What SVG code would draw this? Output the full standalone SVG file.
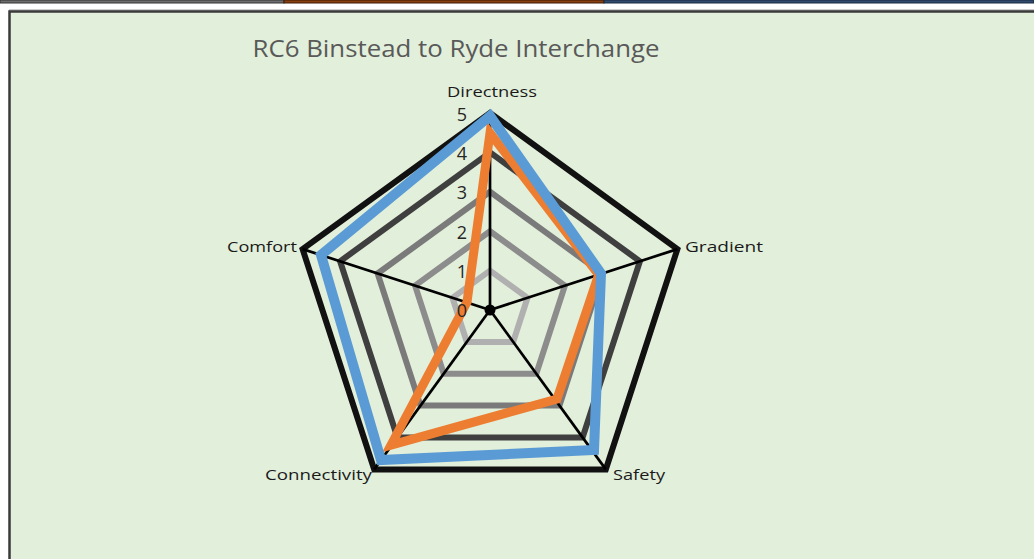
<svg xmlns="http://www.w3.org/2000/svg" width="1034" height="559" viewBox="0 0 1034 559">
<style>
.grid{fill:none;stroke-linejoin:miter;stroke-width:6}
.spoke{stroke:#000;stroke-width:2.7}
.ax{font-family:"Open Sans","Liberation Sans",sans-serif;font-size:15px;fill:#1a1a1a}
.num{font-family:"Open Sans","Liberation Sans",sans-serif;font-size:18px;fill:#262626;text-anchor:end}
.ser{fill:none;stroke-linejoin:miter;stroke-miterlimit:10}
</style>
<rect x="0" y="0" width="1034" height="559" fill="#ffffff"/>
<g id="topstrip">
<rect x="0" y="0" width="284" height="3" fill="#6e6e6e" stroke="#333" stroke-width="1"/>
<rect x="284" y="0" width="320" height="3" fill="#8a3f10" stroke="#3a1a05" stroke-width="1"/>
<rect x="604" y="0" width="430" height="3" fill="#2f4a6e" stroke="#1a2a40" stroke-width="1"/>
</g>
<g id="chartarea">
<line x1="9" y1="10" x2="1034" y2="10" stroke="#9a9a9a" stroke-width="1"/>
<rect x="9.5" y="11.5" width="1030" height="560" fill="#e2efda" stroke="#3a3a3a" stroke-width="2.5"/>
</g>
<text id="title" x="456" y="57" text-anchor="middle" font-family="Open Sans, Liberation Sans, sans-serif" font-size="24" fill="#595959" textLength="407" lengthAdjust="spacingAndGlyphs">RC6 Binstead to Ryde Interchange</text>
<g id="grid">
<polygon class="grid" stroke="#b0b0b0" points="490,270.6 527.5,297.8 513.2,341.9 466.8,341.9 452.5,297.8"/>
<polygon class="grid" stroke="#8c8c8c" points="490,231.2 564.9,285.6 536.3,373.7 443.7,373.7 415.1,285.6"/>
<polygon class="grid" stroke="#7a7a7a" points="490,191.8 602.4,273.5 559.5,405.6 420.5,405.6 377.6,273.5"/>
<polygon class="grid" stroke="#3f3f3f" points="490,152.4 639.9,261.3 582.6,437.5 397.4,437.5 340.1,261.3"/>
<polygon class="grid" stroke="#111111" stroke-width="7" points="490,113 677.4,249.1 605.8,469.4 374.2,469.4 302.6,249.1"/>
</g>
<g id="spokes">
<line class="spoke" x1="490" y1="310" x2="490" y2="113"/>
<line class="spoke" x1="490" y1="310" x2="677.4" y2="249.1"/>
<line class="spoke" x1="490" y1="310" x2="605.8" y2="469.4"/>
<line class="spoke" x1="490" y1="310" x2="374.2" y2="469.4"/>
<line class="spoke" x1="490" y1="310" x2="302.6" y2="249.1"/>
<circle cx="490" cy="310" r="5.5" fill="#000"/>
</g>
<g id="series-orange">
<polygon class="ser" stroke="#ed7d31" stroke-width="9" points="490,133 598.7,274.7 557,399 391,445 467,302"/>
</g>
<g id="series-blue">
<polygon class="ser" stroke="#5b9bd5" stroke-width="10" points="490,116 601,273.5 594,450 381,460 321,255"/>
</g>
<g id="ticks">
<text class="num" x="467" y="121">5</text>
<text class="num" x="467" y="160">4</text>
<text class="num" x="467" y="199">3</text>
<text class="num" x="467" y="239">2</text>
<text class="num" x="467" y="278">1</text>
<text class="num" x="467" y="317">0</text>
</g>
<g id="axis-labels">
<text id="lbl-directness" class="ax" x="447" y="97" textLength="90" lengthAdjust="spacingAndGlyphs">Directness</text>
<text id="lbl-gradient" class="ax" x="685" y="252" textLength="78" lengthAdjust="spacingAndGlyphs">Gradient</text>
<text id="lbl-comfort" class="ax" x="227" y="252" textLength="70" lengthAdjust="spacingAndGlyphs">Comfort</text>
<text id="lbl-connectivity" class="ax" x="265" y="480" textLength="107" lengthAdjust="spacingAndGlyphs">Connectivity</text>
<text id="lbl-safety" class="ax" x="613" y="480" textLength="52" lengthAdjust="spacingAndGlyphs">Safety</text>
</g>
</svg>
